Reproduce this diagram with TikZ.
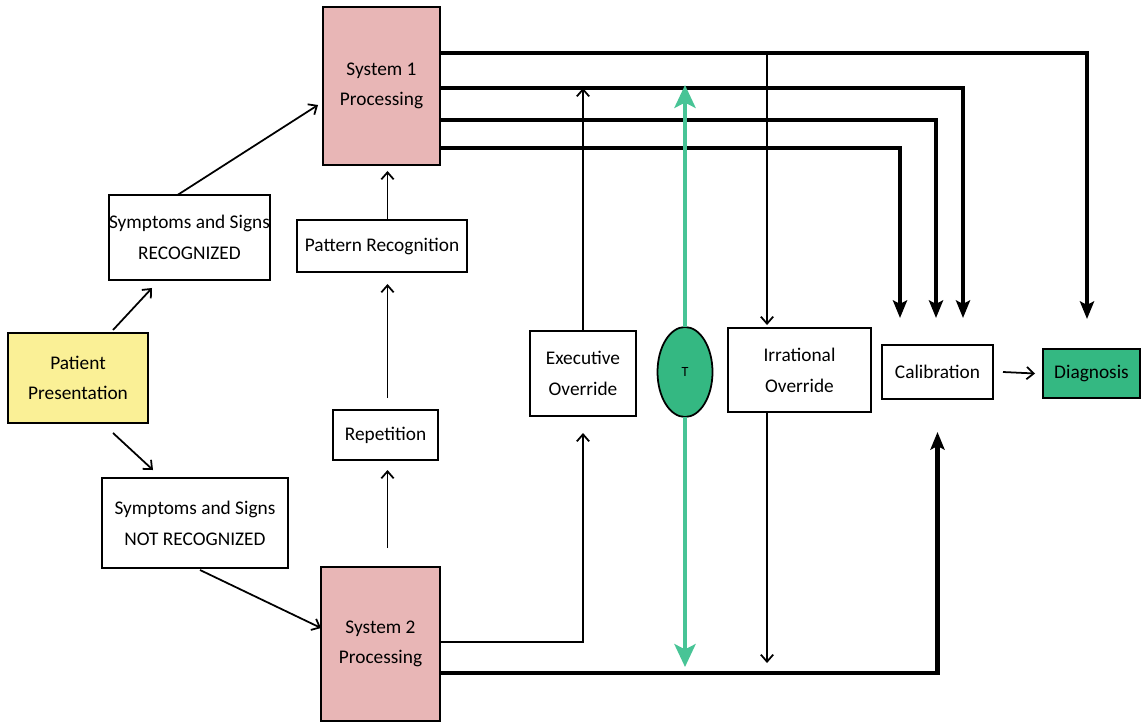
\documentclass[tikz,border=0pt]{standalone}
\usepackage{fontspec}
\setmainfont{Carlito}
\usetikzlibrary{calc,arrows.meta,shapes.geometric}
\definecolor{syspink}{RGB}{232,182,182}
\definecolor{patyellow}{RGB}{250,240,150}
\definecolor{diaggreen}{RGB}{52,184,130}
\definecolor{tgreen}{RGB}{72,196,150}

\begin{document}
\begin{tikzpicture}[x=0.02cm, y=-0.02cm,
  every node/.style={font=\fontsize{11}{17.5}\selectfont, align=center, inner sep=0pt, outer sep=0pt},
  box/.style={draw, line width=1pt, fill=white},
  lnk/.style={line width=1pt, -{Straight Barb[length=4pt,width=7pt]}},
  bus/.style={line width=2.6pt, -{Stealth[length=10pt,width=8pt,inset=2pt]}},
  tarr/.style={tgreen, line width=2.4pt, -{Stealth[length=13pt,width=12pt,inset=3pt]}}]
\useasboundingbox (0,0) rectangle (1145,723);

% boxes
\node[box, fill=syspink, minimum width=2.34cm, minimum height=3.16cm] (s1) at (381.5,86) {System 1\\Processing};
\node[box, fill=syspink, minimum width=2.38cm, minimum height=3.08cm] (s2) at (380.5,644) {System 2\\Processing};
\node[box, minimum width=3.1cm, minimum height=1.7cm] (rec) at (189.5,237.5) {Symptoms and Signs\\RECOGNIZED};
\node[box, fill=patyellow, minimum width=2.8cm, minimum height=1.8cm] (pat) at (78,378) {Patient\\Presentation};
\node[box, minimum width=3.72cm, minimum height=1.8cm] (notrec) at (195,523) {Symptoms and Signs\\NOT RECOGNIZED};
\node[box, minimum width=3.4cm, minimum height=1.04cm] (pr) at (382,246) {Pattern Recognition};
\node[box, minimum width=2.1cm, minimum height=1cm] (rep) at (385.5,435) {Repetition};
\node[box, minimum width=2.12cm, minimum height=1.7cm] (exe) at (583,373.5) {Executive\\Override};
\node[draw, ellipse, fill=diaggreen, line width=1pt, minimum width=1.1cm, minimum height=1.8cm, font=\fontsize{8}{9}\selectfont] (T) at (685,372) {T};
\node[box, minimum width=2.86cm, minimum height=1.68cm] (irr) at (799.5,370) {Irrational\\Override};
\node[box, minimum width=2.22cm, minimum height=1.08cm] (cal) at (937.5,372) {Calibration};
\node[box, fill=diaggreen, minimum width=1.94cm, minimum height=0.98cm] (diag) at (1091.5,373.5) {Diagnosis};

\coordinate (l1) at ($(s1.north east)+(0,46)$);
\coordinate (l2) at ($(s1.north east)+(0,81)$);
\coordinate (l3) at ($(s1.north east)+(0,113)$);
\coordinate (l4) at ($(s1.north east)+(0,141)$);
\coordinate (l5) at ($(s2.east)+(0,29)$);
\coordinate (l6) at ($(s2.east)+(0,-2)$);

% left side
\draw[lnk] ($(pat.north)+(35,-3)$) -- ($(rec.south)+(-37.5,8)$);
\draw[lnk] ($(pat.south)+(35,10)$) -- ($(notrec.north)+(-42,-8)$);
\draw[lnk] ($(rec.north)+(-12,0)$) -- ($(s1.west)+(-5,19)$);
\draw[lnk] ($(notrec.south)+(5,2)$) -- ($(s2.west)+(0,-16)$);
\draw[lnk] ($(s2.north)+(7,-19)$) -- ($(rep.south)+(2,10)$);
\draw[lnk] ($(rep.north)+(2,-12)$) -- ($(pr.south)+(5.5,12)$);
\draw[lnk] ($(pr.north)+(5.5,0)$) -- ($(s1.south)+(6,6)$);

% thick lines
\draw[bus] (l1) -| ($(diag.north)+(-4.5,-30)$);
\draw[bus] (l2) -| ($(cal.north)+(25.5,-27)$);
\draw[bus] (l3) -| ($(cal.north)+(-1.5,-27)$);
\draw[bus] (l4) -| ($(cal.north)+(-37.5,-27)$);
\draw[bus] (l5) -| ($(cal.south)+(0,33)$);

% overrides
\draw[lnk] (l6) -| ($(exe.south)+(0,17)$);
\draw[lnk] (exe.north) -- (exe.north |- l2);
\draw[lnk] ($(irr.north west |- l1)+(39,0)$) -- ($(irr.north west)+(39,-3)$);
\draw[lnk] ($(irr.south west)+(39,0)$) -- ($(irr.south west |- l5)+(39,-10)$);
\draw[tarr] (T.north) -- ($(T.north)+(0,-242)$);
\draw[tarr] (T.south) -- ($(T.south)+(0,250)$);
\draw[lnk] ($(cal.east)+(10,0)$) -- ($(diag.west)+(-8,0)$);
\end{tikzpicture}
\end{document}
